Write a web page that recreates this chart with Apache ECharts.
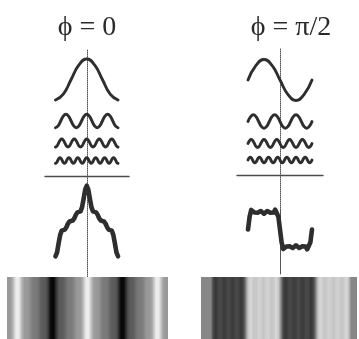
<!DOCTYPE html>
<html>
<head>
<meta charset="utf-8">
<script src="https://cdn.jsdelivr.net/npm/echarts@6/dist/echarts.min.js"></script>
<style>
  html, body { margin: 0; padding: 0; background: #fff; }
  #chart { width: 359px; height: 339px; }
</style>
</head>
<body>
<div id="chart"></div>
<script>
// Panel headings
const panelTitles = ['\u03D5 = 0', '\u03D5 = \u03C0/2'];

// Fourier components over x = -π … π (8 samples per component period)
// Phase 0: cos(nx)/n
const cosH1 = [-1, -0.71, 0, 0.71, 1, 0.71, 0, -0.71, -1];
const cosH3 = [-0.33, -0.24, 0, 0.24, 0.33, 0.24, 0, -0.24,
               -0.33, -0.24, 0, 0.24, 0.33, 0.24, 0, -0.24,
               -0.33, -0.24, 0, 0.24, 0.33, 0.24, 0, -0.24, -0.33];
const cosH5 = [-0.2, -0.14, 0, 0.14, 0.2, 0.14, 0, -0.14,
               -0.2, -0.14, 0, 0.14, 0.2, 0.14, 0, -0.14,
               -0.2, -0.14, 0, 0.14, 0.2, 0.14, 0, -0.14,
               -0.2, -0.14, 0, 0.14, 0.2, 0.14, 0, -0.14,
               -0.2, -0.14, 0, 0.14, 0.2, 0.14, 0, -0.14, -0.2];
const cosH7 = [-0.14, -0.1, 0, 0.1, 0.14, 0.1, 0, -0.1,
               -0.14, -0.1, 0, 0.1, 0.14, 0.1, 0, -0.1,
               -0.14, -0.1, 0, 0.1, 0.14, 0.1, 0, -0.1,
               -0.14, -0.1, 0, 0.1, 0.14, 0.1, 0, -0.1,
               -0.14, -0.1, 0, 0.1, 0.14, 0.1, 0, -0.1,
               -0.14, -0.1, 0, 0.1, 0.14, 0.1, 0, -0.1,
               -0.14, -0.1, 0, 0.1, 0.14, 0.1, 0, -0.1, -0.14];
// Phase π/2: cos(nx + π/2)/n
const sinH1 = [0, 0.71, 1, 0.71, 0, -0.71, -1, -0.71, 0];
const sinH3 = [0, 0.24, 0.33, 0.24, 0, -0.24, -0.33, -0.24,
               0, 0.24, 0.33, 0.24, 0, -0.24, -0.33, -0.24,
               0, 0.24, 0.33, 0.24, 0, -0.24, -0.33, -0.24, 0];
const sinH5 = [0, 0.14, 0.2, 0.14, 0, -0.14, -0.2, -0.14,
               0, 0.14, 0.2, 0.14, 0, -0.14, -0.2, -0.14,
               0, 0.14, 0.2, 0.14, 0, -0.14, -0.2, -0.14,
               0, 0.14, 0.2, 0.14, 0, -0.14, -0.2, -0.14,
               0, 0.14, 0.2, 0.14, 0, -0.14, -0.2, -0.14, 0];
const sinH7 = [0, 0.1, 0.14, 0.1, 0, -0.1, -0.14, -0.1,
               0, 0.1, 0.14, 0.1, 0, -0.1, -0.14, -0.1,
               0, 0.1, 0.14, 0.1, 0, -0.1, -0.14, -0.1,
               0, 0.1, 0.14, 0.1, 0, -0.1, -0.14, -0.1,
               0, 0.1, 0.14, 0.1, 0, -0.1, -0.14, -0.1,
               0, 0.1, 0.14, 0.1, 0, -0.1, -0.14, -0.1,
               0, 0.1, 0.14, 0.1, 0, -0.1, -0.14, -0.1, 0];

// Sums of the four components, 40 steps per period (x = -π … π)
const sumPhase0 = [-1.68, -1.49, -1.06, -0.66, -0.46, -0.43, -0.41, -0.29, -0.12, -0.02,
                   0, 0.02, 0.12, 0.29, 0.41, 0.43, 0.46, 0.66, 1.06, 1.49,
                   1.68, 1.49, 1.06, 0.66, 0.46, 0.43, 0.41, 0.29, 0.12, 0.02,
                   0, -0.02, -0.12, -0.29, -0.41, -0.43, -0.46, -0.66, -1.06, -1.49, -1.68];
const sumPhaseHalfPi = [0, 0.58, 0.89, 0.90, 0.77, 0.70, 0.76, 0.84, 0.84, 0.77,
                        0.72, 0.77, 0.84, 0.84, 0.76, 0.70, 0.77, 0.90, 0.89, 0.58,
                        0, -0.58, -0.89, -0.90, -0.77, -0.70, -0.76, -0.84, -0.84, -0.77,
                        -0.72, -0.77, -0.84, -0.84, -0.76, -0.70, -0.77, -0.90, -0.89, -0.58, 0];

// ---- layout (pixels) ----
const panels = [
  { title: panelTitles[0], titleX: 87, axisX: 87, curveLeft: 55.5, curveWidth: 62.5,
    comps: [cosH1, cosH3, cosH5, cosH7], compY: [79.5, 121, 143, 160.5], compScale: 20.5,
    sum: sumPhase0, sumY: 221, sumScale: 21,
    ruleLeft: 45, ruleWidth: 84, ruleY: 176.5,
    axisTop: 50, axisBottom: 277, axisSolidFrom: null,
    grating: { left: 7, width: 161, centre: 87.5, periods: null, base: 122, gain: 73 } },
  { title: panelTitles[1], titleX: 291, axisX: 280, curveLeft: 248, curveWidth: 64,
    comps: [sinH1, sinH3, sinH5, sinH7], compY: [80, 121.5, 143.5, 160], compScale: 20.5,
    sum: sumPhaseHalfPi, sumY: 229.5, sumScale: 22,
    ruleLeft: 237, ruleWidth: 86, ruleY: 175.5,
    axisTop: 48, axisBottom: 274, axisSolidFrom: 210,
    grating: { left: 201, width: 156, centre: 281, periods: 1, base: 135, gain: 88 } }
];
const gratingTop = 277, gratingHeight = 62, gratingPeriodPx = 70;

const grid = [], xAxis = [], yAxis = [], series = [], graphic = [];
const hidden = { show: false };

function addGrid(g, x, y) {
  grid.push(Object.assign({ show: false, borderWidth: 0 }, g));
  const i = grid.length - 1;
  xAxis.push(Object.assign({ gridIndex: i }, x));
  yAxis.push(Object.assign({ gridIndex: i }, y));
  return i;
}

function curve(values, left, width, centreY, scale, lineWidth) {
  const i = addGrid(
    { left: left, width: width, top: centreY - 2 * scale, height: 4 * scale },
    { type: 'value', min: -1, max: 1, show: false },
    { type: 'value', min: -2, max: 2, show: false });
  series.push({
    type: 'line', xAxisIndex: i, yAxisIndex: i, clip: false,
    data: values.map((v, k) => [-1 + 2 * k / (values.length - 1), v]),
    showSymbol: false, silent: true,
    smooth: lineWidth < 4 ? 0.5 : false,
    lineStyle: { color: '#2e2e2e', width: lineWidth, cap: 'round', join: 'round' }
  });
}

function gratingGray(v, p) {
  const g = Math.max(0, Math.min(255, Math.round(p.base + v * p.gain)));
  return 'rgb(' + g + ',' + g + ',' + g + ')';
}

panels.forEach(p => {
  // heading
  graphic.push({
    type: 'text', x: p.titleX, y: 28,
    style: { text: p.title, fill: '#2a2a2a', font: '28px "Liberation Serif", "DejaVu Serif", serif',
             align: 'center', verticalAlign: 'middle' }
  });

  // vertical reference axis through x = 0
  const splitAt = p.axisSolidFrom || p.axisBottom;
  addGrid({ left: p.axisX, width: 10, top: p.axisTop, height: splitAt - p.axisTop },
    { type: 'value', show: false },
    { type: 'value', axisLine: { show: true, lineStyle: { color: '#555', width: 1, type: [1, 1] } },
      axisTick: hidden, axisLabel: hidden, splitLine: hidden });
  if (p.axisSolidFrom) {
    addGrid({ left: p.axisX, width: 10, top: p.axisSolidFrom, height: p.axisBottom - p.axisSolidFrom },
      { type: 'value', show: false },
      { type: 'value', axisLine: { show: true, lineStyle: { color: '#555', width: 1 } },
        axisTick: hidden, axisLabel: hidden, splitLine: hidden });
  }

  // components
  p.comps.forEach((c, j) => curve(c, p.curveLeft, p.curveWidth, p.compY[j], p.compScale, 2.9));

  // rule separating components from their sum
  addGrid({ left: p.ruleLeft, width: p.ruleWidth, top: p.ruleY - 20, height: 20 },
    { type: 'value', axisLine: { show: true, onZero: false, lineStyle: { color: '#4a4a4a', width: 1.4 } },
      axisTick: hidden, axisLabel: hidden, splitLine: hidden },
    { type: 'value', show: false });

  // sum of the components
  curve(p.sum, p.curveLeft, p.curveWidth, p.sumY, p.sumScale, 4.6);

  // grating: the summed profile shown as brightness, one band per sample step
  const gr = p.grating;
  const steps = p.sum.length - 1;
  const xMin = (gr.left - gr.centre) / gratingPeriodPx;
  const xMax = (gr.left + gr.width - gr.centre) / gratingPeriodPx;
  const kFrom = gr.periods ? -gr.periods * steps : Math.floor(xMin * steps);
  const kTo = gr.periods ? gr.periods * steps : Math.ceil(xMax * steps);
  const at = k => p.sum[(((k + steps / 2) % steps) + steps) % steps];
  const bands = [];
  for (let k = kFrom; k < kTo; k++) {
    bands.push([k / steps, at(k), at(k + 1)]);
  }
  const gi = addGrid(
    { left: gr.left, width: gr.width, top: gratingTop, height: gratingHeight, show: true,
      backgroundColor: gratingGray(0, gr), borderWidth: 0 },
    { type: 'value', min: xMin, max: xMax, show: false },
    { type: 'value', min: 0, max: 1, show: false });
  const step = 1 / steps;
  series.push({
    type: 'custom', xAxisIndex: gi, yAxisIndex: gi, clip: true, silent: true,
    data: bands,
    renderItem: (params, api) => {
      const x = api.value(0);
      const a = api.coord([x, 1]);
      const b = api.coord([x + step, 0]);
      return {
        type: 'rect',
        shape: { x: a[0] - 0.25, y: a[1], width: b[0] - a[0] + 0.5, height: b[1] - a[1] },
        style: {
          fill: new echarts.graphic.LinearGradient(0, 0, 1, 0, [
            { offset: 0, color: gratingGray(api.value(1), gr) },
            { offset: 1, color: gratingGray(api.value(2), gr) }
          ])
        }
      };
    }
  });
});

const chart = echarts.init(document.getElementById('chart'), null, { renderer: 'canvas' });
chart.setOption({
  animation: false,
  backgroundColor: '#fff',
  grid, xAxis, yAxis, series, graphic
});
</script>
</body>
</html>
